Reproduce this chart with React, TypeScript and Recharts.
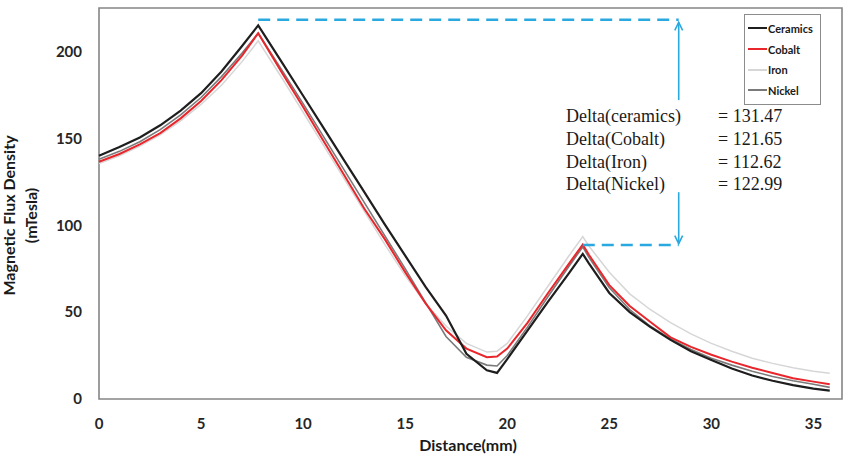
import { LineChart, Line, XAxis, YAxis, ReferenceLine, ReferenceArea, Legend } from "recharts";

// distance along the sensor path (mm)
const distance = [0, 1, 2, 3, 4, 5, 6, 7, 7.8, 9, 10, 11, 12, 13, 14, 15, 16, 17, 18, 19, 19.5, 20, 21, 22, 23, 23.7, 24, 25, 26, 27, 28, 29, 30, 31, 32, 33, 34, 35, 35.8];

// magnetic flux density (mTesla) per core material
const ceramics = [140, 145, 150.5, 157.5, 166, 176, 188.5, 203, 215, 193, 174.5, 156, 137.5, 119, 100.5, 82.5, 64.5, 48, 26, 16.5, 15, 23, 39.5, 56, 72, 83.53, 78, 61, 50, 41.5, 34, 27.5, 22.5, 17.5, 13.5, 10.5, 8, 6, 4.8];
const cobalt = [136.5, 141, 146.5, 153, 161.5, 171.5, 183.5, 197.5, 210.5, 187, 168, 148.5, 129, 109.5, 92, 73, 55, 39.5, 29, 24, 24.5, 29, 44, 61, 77.5, 88.85, 83, 65.5, 53.5, 44.5, 35.5, 30, 25.5, 21.5, 18, 15, 12, 10, 8.5];
const iron = [135.5, 140, 145.5, 152, 160, 169.5, 180.5, 194, 206.1, 184, 165, 146, 127, 108, 89, 71, 55, 42, 32, 27, 27.5, 32, 48, 65, 82, 93.48, 88, 73, 60.5, 51.5, 44, 37.5, 32, 27.5, 23.5, 20.5, 18, 16, 14.8];
const nickel = [138, 142.5, 148, 155, 163.5, 173.5, 185.5, 199, 210.5, 188.5, 170, 151, 132, 113, 94, 75, 55.5, 36, 24, 19.5, 19, 25, 41.5, 59, 76, 87.51, 81.5, 64, 51.5, 42, 34.5, 28.5, 23.5, 19.5, 16, 13, 10.5, 8.5, 6.7];

const xTicks = [0, 5, 10, 15, 20, 25, 30, 35];
const yTicks = [0, 50, 100, 150, 200];

// bracket marking the drop between the two peaks
const bracketTop = 218.3;
const bracketBottom = 88.6;
const bracketStart = [7.8, 23.7];
const bracketX = 28.4;

const series = [
  { key: "iron", name: "Iron", values: iron, color: "#d6d6d6", width: 1.5 },
  { key: "nickel", name: "Nickel", values: nickel, color: "#7a7a7a", width: 1.6 },
  { key: "cobalt", name: "Cobalt", values: cobalt, color: "#e8262b", width: 2 },
  { key: "ceramics", name: "Ceramics", values: ceramics, color: "#1e1e1e", width: 2.2 },
];

const legendOrder = ["Ceramics", "Cobalt", "Iron", "Nickel"];
const deltaLabels = ["Delta(ceramics)", "Delta(Cobalt)", "Delta(Iron)", "Delta(Nickel)"];
const deltaSeries = [ceramics, cobalt, iron, nickel];

const rows = distance.map((d, i) => {
  const row: Record<string, number> = { distance: d };
  series.forEach((s) => (row[s.key] = s.values[i]));
  return row;
});

// first peak minus second peak
const deltas = deltaSeries.map((vals) => {
  const first = Math.max(...vals.filter((_, i) => distance[i] < 15));
  const second = Math.max(...vals.filter((_, i) => distance[i] > 20));
  return (first - second).toFixed(2);
});

const BLUE = "#2aa9e0";
const AXIS_FONT = "Lato, 'Open Sans', sans-serif";
const tickStyle = { fill: "#262626", fontSize: 15, fontWeight: 700, fontFamily: AXIS_FONT };

// line with an open arrowhead at its first point
function Arrow(props: any) {
  const { x1, y1, x2, y2 } = props;
  const ang = Math.atan2(y1 - y2, x1 - x2);
  const len = 9;
  const spread = 0.45;
  const ax = x1 - len * Math.cos(ang - spread);
  const ay = y1 - len * Math.sin(ang - spread);
  const bx = x1 - len * Math.cos(ang + spread);
  const by = y1 - len * Math.sin(ang + spread);
  return (
    <g>
      <line x1={x1} y1={y1} x2={x2} y2={y2} stroke={BLUE} strokeWidth={1.6} />
      <path d={`M${ax},${ay} L${x1},${y1} L${bx},${by}`} stroke={BLUE} strokeWidth={1.6} fill="none" />
    </g>
  );
}

function LegendBox({ payload }: any) {
  const items = [...(payload ?? [])].sort(
    (a: any, b: any) => legendOrder.indexOf(a.value) - legendOrder.indexOf(b.value)
  );
  return (
    <div style={{ border: "1px solid #8c8c8c", background: "#fff", padding: "3px 0 3px 3px", width: 72 }}>
      {items.map((it: any) => (
        <div key={it.value} style={{ display: "flex", alignItems: "center", height: 20.7 }}>
          <span style={{ display: "inline-block", width: 19, borderTop: `2px solid ${it.color}` }} />
          <span style={{ fontFamily: AXIS_FONT, fontWeight: 700, fontSize: 11, color: "#1a1a1a", marginLeft: 1 }}>
            {it.value}
          </span>
        </div>
      ))}
    </div>
  );
}

function YTitle({ viewBox }: any) {
  const cy = viewBox.y + viewBox.height / 2 + 12;
  return (
    <g transform={`translate(0, ${cy}) rotate(-90)`}>
      <text textAnchor="middle" fill="#1a1a1a" fontSize={16} fontWeight={700} fontFamily={AXIS_FONT}>
        <tspan x={0} y={15}>Magnetic Flux Density</tspan>
        <tspan x={0} y={36.5}>(mTesla)</tspan>
      </text>
    </g>
  );
}

function XTitle({ viewBox }: any) {
  return (
    <text x={468} y={viewBox.y + 52} textAnchor="middle" fill="#1a1a1a" fontSize={16} fontWeight={700} fontFamily={AXIS_FONT}>
      Distance(mm)
    </text>
  );
}

export default function App() {
  return (
    <div style={{ position: "absolute", left: 0, top: 0, width: 850, height: 456, background: "#fff" }}>
      <LineChart width={850} height={456} data={rows} margin={{ top: 8, right: 8, bottom: 0, left: 0 }}>
        <XAxis
          type="number"
          dataKey="distance"
          domain={[0, 36.4]}
          ticks={xTicks}
          axisLine={false}
          tickLine={false}
          tickMargin={13}
          height={57}
          tick={tickStyle}
          label={<XTitle />}
        />
        <YAxis
          type="number"
          domain={[0, 225]}
          ticks={yTicks}
          axisLine={false}
          tickLine={false}
          tickMargin={11}
          width={99}
          tick={tickStyle}
          label={<YTitle />}
        />
        <ReferenceArea x1={0} x2={36.4} y1={0} y2={225} fill="none" stroke="#858585" strokeWidth={1.6} ifOverflow="visible" />
        {series.map((s) => (
          <Line
            key={s.key}
            dataKey={s.key}
            name={s.name}
            stroke={s.color}
            strokeWidth={s.width}
            dot={false}
            activeDot={false}
            isAnimationActive={false}
          />
        ))}
        <ReferenceLine
          segment={[{ x: bracketStart[0], y: bracketTop }, { x: bracketX, y: bracketTop }]}
          stroke={BLUE}
          strokeWidth={2.5}
          strokeDasharray="12 7"
        />
        <ReferenceLine
          segment={[{ x: bracketStart[1], y: bracketBottom }, { x: bracketX, y: bracketBottom }]}
          stroke={BLUE}
          strokeWidth={2.5}
          strokeDasharray="12 7"
        />
        <ReferenceLine segment={[{ x: bracketX, y: bracketTop - 1.5 }, { x: bracketX, y: 172 }]} shape={Arrow} />
        <ReferenceLine segment={[{ x: bracketX, y: bracketBottom + 0.8 }, { x: bracketX, y: 119 }]} shape={Arrow} />
        <Legend
          layout="vertical"
          verticalAlign="middle"
          align="center"
          content={<LegendBox />}
          wrapperStyle={{ left: 744, top: 14, width: 76 }}
        />
      </LineChart>
      <div
        style={{
          position: "absolute",
          left: 566,
          top: 105,
          fontFamily: "'Liberation Serif', 'Times New Roman', serif",
          fontSize: 18,
          lineHeight: "22.8px",
          color: "#1a1a1a",
        }}
      >
        {deltaLabels.map((lbl, i) => (
          <div key={lbl} style={{ display: "flex" }}>
            <span style={{ width: 152 }}>{lbl}</span>
            <span>= {deltas[i]}</span>
          </div>
        ))}
      </div>
    </div>
  );
}
